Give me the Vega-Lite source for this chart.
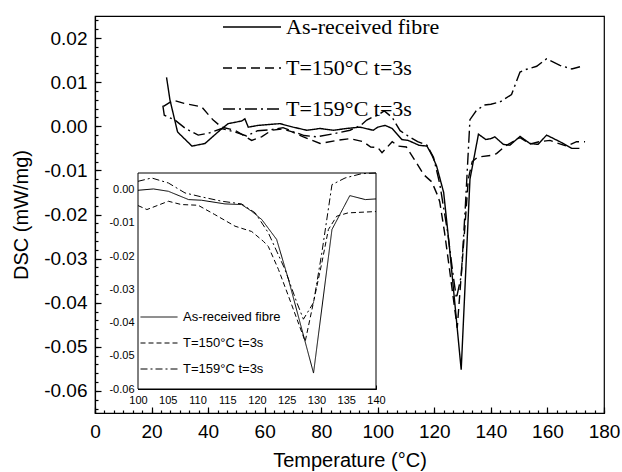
{
  "$schema": "https://vega.github.io/schema/vega-lite/v6.json",
  "width": 509,
  "height": 397,
  "autosize": {"type": "none"},
  "padding": {"left": 95, "top": 16, "right": 18, "bottom": 59},
  "background": "white",
  "config": {
    "view": {"stroke": "black", "strokeWidth": 1.2},
    "font": "Liberation Sans",
    "axis": {"domainColor": "black", "tickColor": "black", "labelColor": "black", "titleColor": "black", "grid": false, "zindex": 1, "titleFontWeight": "normal", "labelOverlap": false, "labelBound": false, "labelFlush": false, "labelFont": "Liberation Sans", "titleFont": "Liberation Sans"}
  },
  "datasets": {
    "dsc": [
      {"s": "As-received fibre", "T": 25.3, "v": 0.0111},
      {"s": "As-received fibre", "T": 26.5, "v": 0.006},
      {"s": "As-received fibre", "T": 29.2, "v": -0.0013},
      {"s": "As-received fibre", "T": 34.3, "v": -0.0045},
      {"s": "As-received fibre", "T": 38.9, "v": -0.0039},
      {"s": "As-received fibre", "T": 44.2, "v": -0.0009},
      {"s": "As-received fibre", "T": 47.1, "v": 0.0006},
      {"s": "As-received fibre", "T": 51.9, "v": 0.0012},
      {"s": "As-received fibre", "T": 53.0, "v": 0.0017},
      {"s": "As-received fibre", "T": 54.2, "v": -0.0002},
      {"s": "As-received fibre", "T": 57.7, "v": 0.0002},
      {"s": "As-received fibre", "T": 61.5, "v": 0.0004},
      {"s": "As-received fibre", "T": 65.4, "v": 0.0006},
      {"s": "As-received fibre", "T": 70.1, "v": -0.0002},
      {"s": "As-received fibre", "T": 74.9, "v": -0.0009},
      {"s": "As-received fibre", "T": 79.6, "v": -0.0005},
      {"s": "As-received fibre", "T": 84.3, "v": -0.0009},
      {"s": "As-received fibre", "T": 89.0, "v": -0.0005},
      {"s": "As-received fibre", "T": 93.7, "v": -0.0002},
      {"s": "As-received fibre", "T": 98.4, "v": -0.0009},
      {"s": "As-received fibre", "T": 100, "v": -0.0002},
      {"s": "As-received fibre", "T": 102.6, "v": 0.0002},
      {"s": "As-received fibre", "T": 105.1, "v": -0.0005},
      {"s": "As-received fibre", "T": 108.5, "v": -0.003},
      {"s": "As-received fibre", "T": 110.7, "v": -0.0032},
      {"s": "As-received fibre", "T": 114.6, "v": -0.0043},
      {"s": "As-received fibre", "T": 117.4, "v": -0.0045},
      {"s": "As-received fibre", "T": 119.1, "v": -0.0065},
      {"s": "As-received fibre", "T": 120.8, "v": -0.009},
      {"s": "As-received fibre", "T": 123.3, "v": -0.015},
      {"s": "As-received fibre", "T": 125.3, "v": -0.0271},
      {"s": "As-received fibre", "T": 129.5, "v": -0.0552},
      {"s": "As-received fibre", "T": 132.6, "v": -0.012},
      {"s": "As-received fibre", "T": 135.6, "v": -0.0018},
      {"s": "As-received fibre", "T": 138.2, "v": -0.003},
      {"s": "As-received fibre", "T": 140, "v": -0.0028},
      {"s": "As-received fibre", "T": 141.4, "v": -0.0024},
      {"s": "As-received fibre", "T": 144.4, "v": -0.0041},
      {"s": "As-received fibre", "T": 146.7, "v": -0.0043},
      {"s": "As-received fibre", "T": 150.3, "v": -0.0023},
      {"s": "As-received fibre", "T": 153.8, "v": -0.0039},
      {"s": "As-received fibre", "T": 156.7, "v": -0.0041},
      {"s": "As-received fibre", "T": 159.7, "v": -0.002},
      {"s": "As-received fibre", "T": 164.4, "v": -0.0035},
      {"s": "As-received fibre", "T": 168.6, "v": -0.005},
      {"s": "As-received fibre", "T": 171.3, "v": -0.005},
      {"s": "T=150°C t=3s", "T": 24.2, "v": 0.0045},
      {"s": "T=150°C t=3s", "T": 27.7, "v": 0.0059},
      {"s": "T=150°C t=3s", "T": 31.5, "v": 0.0052},
      {"s": "T=150°C t=3s", "T": 37.7, "v": 0.0044},
      {"s": "T=150°C t=3s", "T": 41.8, "v": 0.0014},
      {"s": "T=150°C t=3s", "T": 44.8, "v": -0.0002},
      {"s": "T=150°C t=3s", "T": 49.5, "v": -0.0009},
      {"s": "T=150°C t=3s", "T": 55.4, "v": -0.0032},
      {"s": "T=150°C t=3s", "T": 58.9, "v": -0.0024},
      {"s": "T=150°C t=3s", "T": 62.5, "v": -0.0009},
      {"s": "T=150°C t=3s", "T": 66.0, "v": -0.0006},
      {"s": "T=150°C t=3s", "T": 69.5, "v": -0.0012},
      {"s": "T=150°C t=3s", "T": 73.7, "v": -0.0024},
      {"s": "T=150°C t=3s", "T": 79.6, "v": -0.0039},
      {"s": "T=150°C t=3s", "T": 85.5, "v": -0.0032},
      {"s": "T=150°C t=3s", "T": 90.2, "v": -0.0028},
      {"s": "T=150°C t=3s", "T": 94.9, "v": -0.0035},
      {"s": "T=150°C t=3s", "T": 97.5, "v": -0.0047},
      {"s": "T=150°C t=3s", "T": 100, "v": -0.0048},
      {"s": "T=150°C t=3s", "T": 101.5, "v": -0.006},
      {"s": "T=150°C t=3s", "T": 105.1, "v": -0.0035},
      {"s": "T=150°C t=3s", "T": 107.3, "v": -0.0045},
      {"s": "T=150°C t=3s", "T": 110.1, "v": -0.0047},
      {"s": "T=150°C t=3s", "T": 112.9, "v": -0.0075},
      {"s": "T=150°C t=3s", "T": 116.3, "v": -0.011},
      {"s": "T=150°C t=3s", "T": 119.1, "v": -0.0126},
      {"s": "T=150°C t=3s", "T": 121.1, "v": -0.0156},
      {"s": "T=150°C t=3s", "T": 121.9, "v": -0.0171},
      {"s": "T=150°C t=3s", "T": 123.6, "v": -0.024},
      {"s": "T=150°C t=3s", "T": 125.3, "v": -0.0321},
      {"s": "T=150°C t=3s", "T": 128.1, "v": -0.0457},
      {"s": "T=150°C t=3s", "T": 130.9, "v": -0.022},
      {"s": "T=150°C t=3s", "T": 132.0, "v": -0.012},
      {"s": "T=150°C t=3s", "T": 133.4, "v": -0.008},
      {"s": "T=150°C t=3s", "T": 135.3, "v": -0.007},
      {"s": "T=150°C t=3s", "T": 140, "v": -0.0066},
      {"s": "T=150°C t=3s", "T": 142, "v": -0.0062},
      {"s": "T=150°C t=3s", "T": 145, "v": -0.0045},
      {"s": "T=150°C t=3s", "T": 150.3, "v": -0.0026},
      {"s": "T=150°C t=3s", "T": 154, "v": -0.004},
      {"s": "T=150°C t=3s", "T": 157, "v": -0.0035},
      {"s": "T=150°C t=3s", "T": 160.9, "v": -0.0032},
      {"s": "T=150°C t=3s", "T": 163.5, "v": -0.0038},
      {"s": "T=150°C t=3s", "T": 166.8, "v": -0.0045},
      {"s": "T=150°C t=3s", "T": 170.3, "v": -0.0035},
      {"s": "T=150°C t=3s", "T": 173.3, "v": -0.0035},
      {"s": "T=159°C t=3s", "T": 24.0, "v": 0.0047},
      {"s": "T=159°C t=3s", "T": 24.5, "v": 0.0025},
      {"s": "T=159°C t=3s", "T": 28.3, "v": 0.0014},
      {"s": "T=159°C t=3s", "T": 32.0, "v": -0.0005},
      {"s": "T=159°C t=3s", "T": 36.5, "v": -0.002},
      {"s": "T=159°C t=3s", "T": 40.5, "v": -0.0015},
      {"s": "T=159°C t=3s", "T": 44.8, "v": -0.0005},
      {"s": "T=159°C t=3s", "T": 49.5, "v": -0.0013},
      {"s": "T=159°C t=3s", "T": 53.6, "v": -0.0022},
      {"s": "T=159°C t=3s", "T": 57.5, "v": -0.001},
      {"s": "T=159°C t=3s", "T": 62.0, "v": -0.0008},
      {"s": "T=159°C t=3s", "T": 66.5, "v": -0.0003},
      {"s": "T=159°C t=3s", "T": 70.0, "v": -0.0012},
      {"s": "T=159°C t=3s", "T": 74.0, "v": -0.0021},
      {"s": "T=159°C t=3s", "T": 78.4, "v": -0.0024},
      {"s": "T=159°C t=3s", "T": 84.3, "v": -0.0017},
      {"s": "T=159°C t=3s", "T": 90.2, "v": -0.0009},
      {"s": "T=159°C t=3s", "T": 94.0, "v": 0.0002},
      {"s": "T=159°C t=3s", "T": 96.1, "v": 0.0014},
      {"s": "T=159°C t=3s", "T": 98.5, "v": 0.0022},
      {"s": "T=159°C t=3s", "T": 100, "v": 0.0025},
      {"s": "T=159°C t=3s", "T": 102.3, "v": 0.0035},
      {"s": "T=159°C t=3s", "T": 105.1, "v": 0.002},
      {"s": "T=159°C t=3s", "T": 107.9, "v": -0.001},
      {"s": "T=159°C t=3s", "T": 110.7, "v": -0.0022},
      {"s": "T=159°C t=3s", "T": 114.1, "v": -0.0035},
      {"s": "T=159°C t=3s", "T": 117.4, "v": -0.0043},
      {"s": "T=159°C t=3s", "T": 119.7, "v": -0.007},
      {"s": "T=159°C t=3s", "T": 121.9, "v": -0.013},
      {"s": "T=159°C t=3s", "T": 124.7, "v": -0.024},
      {"s": "T=159°C t=3s", "T": 126.7, "v": -0.034},
      {"s": "T=159°C t=3s", "T": 127.8, "v": -0.039},
      {"s": "T=159°C t=3s", "T": 129.5, "v": -0.034},
      {"s": "T=159°C t=3s", "T": 130.9, "v": -0.019},
      {"s": "T=159°C t=3s", "T": 132.6, "v": 0.0015},
      {"s": "T=159°C t=3s", "T": 134.8, "v": 0.0035},
      {"s": "T=159°C t=3s", "T": 137.6, "v": 0.0048},
      {"s": "T=159°C t=3s", "T": 140, "v": 0.005},
      {"s": "T=159°C t=3s", "T": 143.2, "v": 0.0055},
      {"s": "T=159°C t=3s", "T": 147.3, "v": 0.0072},
      {"s": "T=159°C t=3s", "T": 150.3, "v": 0.0123},
      {"s": "T=159°C t=3s", "T": 152.0, "v": 0.0128},
      {"s": "T=159°C t=3s", "T": 156.2, "v": 0.0136},
      {"s": "T=159°C t=3s", "T": 159.7, "v": 0.0153},
      {"s": "T=159°C t=3s", "T": 164.4, "v": 0.0138},
      {"s": "T=159°C t=3s", "T": 168.6, "v": 0.013},
      {"s": "T=159°C t=3s", "T": 171.5, "v": 0.0135}
    ]
  },
  "data": {"name": "dsc"},
  "layer": [
    {
      "layer": [
        {
          "mark": {"type": "line", "stroke": "black", "strokeWidth": 1.4},
          "encoding": {
            "x": {
              "field": "T", "type": "quantitative",
              "scale": {"domain": [0, 180], "nice": false, "zero": false},
              "axis": {
                "title": "Temperature (°C)", "orient": "bottom",
                "values": [0, 20, 40, 60, 80, 100, 120, 140, 160, 180],
                "format": "d", "ticks": false, "domainWidth": 1.2,
                "labelFontSize": 19, "labelPadding": 9,
                "titleFontSize": 20, "titlePadding": 9
              }
            },
            "y": {
              "field": "v", "type": "quantitative",
              "scale": {"domain": [-0.065, 0.025], "nice": false, "zero": false},
              "axis": {
                "title": "DSC (mW/mg)", "orient": "left",
                "values": [-0.06, -0.05, -0.04, -0.03, -0.02, -0.01, 0, 0.01, 0.02],
                "labelExpr": "replace(format(datum.value, '.2f'), '\u2212', '-')",
                "ticks": false, "domainWidth": 1.2,
                "labelFontSize": 19, "labelPadding": 8,
                "titleFontSize": 20, "titlePadding": 12
              }
            },
            "strokeDash": {
              "field": "s", "type": "nominal",
              "scale": {"domain": ["As-received fibre", "T=150°C t=3s", "T=159°C t=3s"], "range": [[1, 0], [9, 5], [12, 4, 2, 4]]},
              "legend": {
                "title": null, "orient": "none", "legendX": 127, "legendY": -19,
                "symbolType": "stroke", "symbolSize": 3364, "symbolStrokeWidth": 1.5, "symbolStrokeColor": "black",
                "labelFont": "Liberation Serif", "labelFontSize": 22, "labelColor": "black", "labelOffset": 4,
                "rowPadding": -19.5, "padding": 0, "offset": 0, "labelLimit": 300
              }
            }
          }
        },
        {
          "mark": {"type": "point", "opacity": 0},
          "encoding": {
            "x": {
              "field": "T", "type": "quantitative",
              "axis": {
                "title": null, "orient": "top", "offset": -397, "labels": false, "domain": false,
                "values": [0, 20, 40, 60, 80, 100, 120, 140, 160, 180],
                "tickSize": 6, "tickWidth": 1.2
              }
            },
            "y": {
              "field": "v", "type": "quantitative",
              "axis": {
                "title": null, "orient": "right", "offset": -509, "labels": false, "domain": false,
                "values": [-0.06, -0.05, -0.04, -0.03, -0.02, -0.01, 0, 0.01, 0.02],
                "tickSize": 6, "tickWidth": 1.2
              }
            }
          }
        },
        {
          "mark": {"type": "point", "opacity": 0},
          "encoding": {
            "x": {
              "field": "T", "type": "quantitative",
              "axis": {
                "title": null, "orient": "top", "offset": -397, "labels": false, "domain": false,
                "values": [0, 3.3333, 6.6667, 10, 13.3333, 16.6667, 20, 23.3333, 26.6667, 30, 33.3333, 36.6667, 40, 43.3333, 46.6667, 50, 53.3333, 56.6667, 60, 63.3333, 66.6667, 70, 73.3333, 76.6667, 80, 83.3333, 86.6667, 90, 93.3333, 96.6667, 100, 103.3333, 106.6667, 110, 113.3333, 116.6667, 120, 123.3333, 126.6667, 130, 133.3333, 136.6667, 140, 143.3333, 146.6667, 150, 153.3333, 156.6667, 160, 163.3333, 166.6667, 170, 173.3333, 176.6667, 180],
                "tickSize": 3, "tickWidth": 1.2
              }
            },
            "y": {
              "field": "v", "type": "quantitative",
              "axis": {
                "title": null, "orient": "right", "offset": -509, "labels": false, "domain": false,
                "values": [-0.064, -0.062, -0.06, -0.058, -0.056, -0.054, -0.052, -0.05, -0.048, -0.046, -0.044, -0.042, -0.04, -0.038, -0.036, -0.034, -0.032, -0.03, -0.028, -0.026, -0.024, -0.022, -0.02, -0.018, -0.016, -0.014, -0.012, -0.01, -0.008, -0.006, -0.004, -0.002, 0, 0.002, 0.004, 0.006, 0.008, 0.01, 0.012, 0.014, 0.016, 0.018, 0.02, 0.022, 0.024],
                "tickSize": 3, "tickWidth": 1.2
              }
            }
          }
        }
      ],
      "resolve": {"axis": {"x": "independent", "y": "independent"}}
    },
    {
      "layer": [
        {
          "data": {"values": [{}]},
          "mark": {"type": "rect", "fill": "white", "stroke": "black", "strokeWidth": 1},
          "encoding": {
            "x": {"datum": 100, "type": "quantitative", "axis": null},
            "x2": {"datum": 140},
            "y": {"datum": -0.06, "type": "quantitative", "axis": null},
            "y2": {"datum": 0.005}
          }
        },
        {
          "transform": [{"filter": "datum.T >= 100 && datum.T <= 140"}],
          "mark": {"type": "line", "stroke": "black", "strokeWidth": 1},
          "encoding": {
            "x": {
              "field": "T", "type": "quantitative",
              "scale": {"domain": [100, 140], "range": [43, 281], "nice": false, "zero": false},
              "axis": {
                "title": null, "orient": "bottom", "offset": -24,
                "values": [100, 105, 110, 115, 120, 125, 130, 135, 140],
                "format": "d", "ticks": false, "domainWidth": 1,
                "labelFontSize": 11, "labelPadding": 5
              }
            },
            "y": {
              "field": "v", "type": "quantitative",
              "scale": {"domain": [-0.06, 0.005], "range": [373, 157], "nice": false, "zero": false},
              "axis": {
                "title": null, "orient": "left", "offset": -43,
                "values": [-0.06, -0.05, -0.04, -0.03, -0.02, -0.01, 0],
                "labelExpr": "replace(format(datum.value, '.2f'), '\u2212', '-')",
                "ticks": false, "domainWidth": 1,
                "labelFontSize": 11, "labelPadding": 4
              }
            },
            "strokeDash": {
              "field": "s", "type": "nominal",
              "scale": {"domain": ["As-received fibre", "T=150°C t=3s", "T=159°C t=3s"], "range": [[1, 0], [5, 3], [7, 3, 2, 3]]},
              "legend": {
                "title": null, "orient": "none", "legendX": 45, "legendY": 282,
                "symbolType": "stroke", "symbolSize": 1369, "symbolStrokeWidth": 1, "symbolStrokeColor": "black",
                "labelFont": "Liberation Sans", "labelFontSize": 13, "labelColor": "black", "labelOffset": 5,
                "rowPadding": -18.5, "padding": 0, "offset": 0, "labelLimit": 300
              }
            }
          }
        },
        {
          "transform": [{"filter": "datum.T >= 100 && datum.T <= 140"}],
          "mark": {"type": "point", "opacity": 0},
          "encoding": {
            "x": {
              "field": "T", "type": "quantitative",
              "axis": {
                "title": null, "orient": "top", "offset": -373, "labels": false, "domain": false,
                "values": [100, 105, 110, 115, 120, 125, 130, 135, 140],
                "tickSize": 4, "tickWidth": 1
              }
            },
            "y": {
              "field": "v", "type": "quantitative",
              "axis": {
                "title": null, "orient": "right", "offset": -466, "labels": false, "domain": false,
                "values": [-0.06, -0.05, -0.04, -0.03, -0.02, -0.01, 0],
                "tickSize": 4, "tickWidth": 1
              }
            }
          }
        },
        {
          "transform": [{"filter": "datum.T >= 100 && datum.T <= 140"}],
          "mark": {"type": "point", "opacity": 0},
          "encoding": {
            "x": {
              "field": "T", "type": "quantitative",
              "axis": {
                "title": null, "orient": "top", "offset": -373, "labels": false, "domain": false,
                "values": [100, 101, 102, 103, 104, 105, 106, 107, 108, 109, 110, 111, 112, 113, 114, 115, 116, 117, 118, 119, 120, 121, 122, 123, 124, 125, 126, 127, 128, 129, 130, 131, 132, 133, 134, 135, 136, 137, 138, 139, 140],
                "tickSize": 2, "tickWidth": 1
              }
            },
            "y": {
              "field": "v", "type": "quantitative",
              "axis": {
                "title": null, "orient": "right", "offset": -466, "labels": false, "domain": false,
                "values": [-0.06, -0.058, -0.056, -0.054, -0.052, -0.05, -0.048, -0.046, -0.044, -0.042, -0.04, -0.038, -0.036, -0.034, -0.032, -0.03, -0.028, -0.026, -0.024, -0.022, -0.02, -0.018, -0.016, -0.014, -0.012, -0.01, -0.008, -0.006, -0.004, -0.002, 0, 0.002, 0.004],
                "tickSize": 2, "tickWidth": 1
              }
            }
          }
        }
      ],
      "resolve": {"axis": {"x": "independent", "y": "independent"}}
    }
  ],
  "resolve": {"scale": {"x": "independent", "y": "independent", "strokeDash": "independent"}, "legend": {"strokeDash": "independent"}}
}
